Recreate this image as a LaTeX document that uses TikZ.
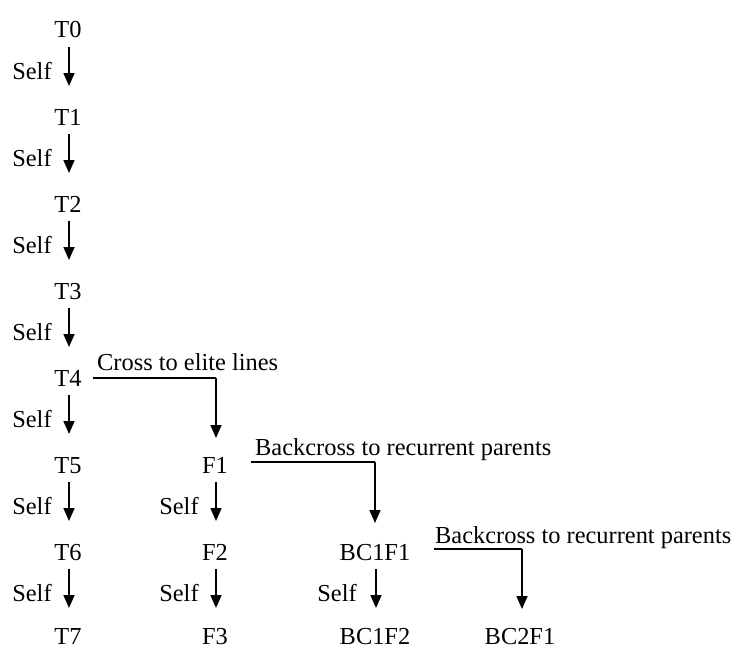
\documentclass[tikz,border=0pt]{standalone}
\usepackage{fontspec}
\setmainfont{Liberation Serif}
\usetikzlibrary{arrows.meta}
\begin{document}
\begin{tikzpicture}[x=1pt,y=-1pt,
  lbl/.style={font=\fontsize{24.4}{27}\selectfont, inner sep=0pt, text height=16pt, text depth=0pt},
  arr/.style={line width=1.6pt, -{Triangle[width=11pt,length=13pt]}},
  lin/.style={line width=1.6pt}]
\useasboundingbox (0,0) rectangle (733,651);
% T column
\foreach \i/\y in {0/29,1/117,2/204,3/291,4/378,5/465,6/552,7/636}{
  \node[lbl] (T\i) at (68,\y) {T\i};
}
\foreach \a/\b/\y in {0/1/71,1/2/158,2/3/245,3/4/332,4/5/419,5/6/506,6/7/593}{
  \coordinate (s\a) at (69,\y-24);
  \coordinate (e\a) at (69,\y+15);
  \draw[arr] (s\a) -- (e\a);
  \node[lbl] (self\a) at (32,\y) {Self};
}
% F column
\node[lbl] (F1) at (215,465) {F1};
\node[lbl] (F2) at (215,552) {F2};
\node[lbl] (F3) at (215,636) {F3};
\coordinate (f1s) at (216,482); \coordinate (f1e) at (216,521);
\coordinate (f2s) at (216,569); \coordinate (f2e) at (216,608);
\draw[arr] (f1s) -- (f1e);
\draw[arr] (f2s) -- (f2e);
\node[lbl] (selfF1) at (179,506) {Self};
\node[lbl] (selfF2) at (179,593) {Self};
% BC columns
\node[lbl] (BC1F1) at (375,552) {BC1F1};
\node[lbl] (BC1F2) at (375,636) {BC1F2};
\node[lbl] (BC2F1) at (520,636) {BC2F1};
\coordinate (b1s) at (376,569); \coordinate (b1e) at (376,608);
\draw[arr] (b1s) -- (b1e);
\node[lbl] (selfB) at (337,593) {Self};
% crosses
\node[lbl,anchor=west] (cross) at (97,362) {Cross to elite lines};
\coordinate (c1) at (93,378); \coordinate (c2) at (216,378); \coordinate (c3) at (216,438);
\draw[lin] (c1) -- (c2);
\draw[arr] (c2) -- (c3);
\node[lbl,anchor=west] (bc1) at (255,447) {Backcross to recurrent parents};
\coordinate (d1) at (251,462); \coordinate (d2) at (375,462); \coordinate (d3) at (375,523);
\draw[lin] (d1) -- (d2);
\draw[arr] (d2) -- (d3);
\node[lbl,anchor=west] (bc2) at (435,535) {Backcross to recurrent parents};
\coordinate (g1) at (434,549); \coordinate (g2) at (522,549); \coordinate (g3) at (522,609);
\draw[lin] (g1) -- (g2);
\draw[arr] (g2) -- (g3);
\end{tikzpicture}
\end{document}
